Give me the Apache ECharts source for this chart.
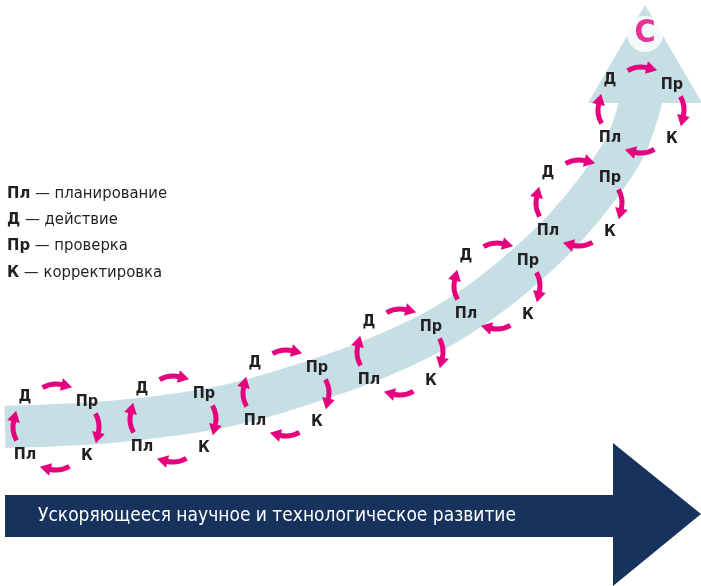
<!DOCTYPE html>
<html><head><meta charset="utf-8">
<script src="https://cdn.jsdelivr.net/npm/echarts@6/dist/echarts.min.js"></script>
<style>html,body{margin:0;padding:0;background:#fff}#c{width:701px;height:586px}</style>
</head><body><div id="c"></div>
<script>
// ---- data ----
const stageLabels = ['Пл', 'Д', 'Пр', 'К'];
const legendNames = ['планирование', 'действие', 'проверка', 'корректировка'];
const cycleX = [56, 173, 286, 400, 497, 579, 641];
const cycleY = [427, 419, 393, 352, 286, 203, 110];
const bandX = [5, 120, 230, 340, 400, 445, 490, 530, 565, 598, 625, 640, 645];
const bandY = [427, 421, 405, 372, 348, 325, 295, 262, 228, 188, 147, 105, 80];
const headX = [588, 645, 702];
const headY = [103, 5, 103];
const goalLabel = 'С';
const goalPoint = [645, 34];
const trendTitle = 'Ускоряющееся научное и технологическое развитие';
const trendX = [5, 613, 613, 701, 613, 613, 5];
const trendY = [495, 495, 443, 514, 586, 537, 537];

const MAG = '#e6007e', NAVY = '#17325c', BAND = '#c6dfe5', INK = '#231f20';
const FONT = '"DejaVu Sans Condensed", "DejaVu Sans", sans-serif';

const chart = echarts.init(document.getElementById('c'), null, {renderer: 'canvas'});

function polyRender(xs, ys, fill) {
  return function (params, api) {
    if (params.dataIndex !== 0) return null;
    const pts = xs.map((x, i) => api.coord([x, ys[i]]));
    return {type: 'polygon', shape: {points: pts}, style: {fill: fill}};
  };
}

function cycleRender(params, api) {
  const c = api.coord([api.value(0), api.value(1)]);
  const children = [];
  const dirs = [-Math.PI / 2, 0, Math.PI / 2, Math.PI];
  const D = 43, R = 27;
  dirs.forEach(a0 => {
    const ox = c[0] + Math.cos(a0) * (D - R), oy = c[1] + Math.sin(a0) * (D - R);
    const s = a0 - 0.52, e = a0 + 0.24;
    children.push({type: 'arc', shape: {cx: ox, cy: oy, r: R, startAngle: s, endAngle: e, clockwise: true},
      style: {stroke: MAG, lineWidth: 5, fill: 'none'}});
    const ex = ox + R * Math.cos(e), ey = oy + R * Math.sin(e);
    const tx = -Math.sin(e), ty = Math.cos(e), nx = Math.cos(e), ny = Math.sin(e);
    children.push({type: 'polygon', shape: {points: [
      [ex + tx * 10, ey + ty * 10], [ex + nx * 6.5 - tx, ey + ny * 6.5 - ty], [ex - nx * 6.5 - tx, ey - ny * 6.5 - ty]]},
      style: {fill: MAG}});
  });
  const offs = [[-31, 28], [-31, -30], [31, -25], [31, 29]];
  stageLabels.forEach((t, i) => children.push({type: 'text', style: {
    text: t, x: c[0] + offs[i][0], y: c[1] + offs[i][1], align: 'center', verticalAlign: 'middle',
    font: 'bold 16px ' + FONT, fill: INK}}));
  return {type: 'group', children};
}

function trendRender(params, api) {
  if (params.dataIndex !== 0) return null;
  const pts = trendX.map((x, i) => api.coord([x, trendY[i]]));
  const t = api.coord([38, (trendY[0] + trendY[5]) / 2]);
  return {type: 'group', children: [
    {type: 'polygon', shape: {points: pts}, style: {fill: NAVY}},
    {type: 'text', style: {text: trendTitle, x: t[0], y: t[1], align: 'left', verticalAlign: 'middle',
      font: '19px ' + FONT, fill: '#ffffff'}}
  ]};
}

const legendGraphics = stageLabels.map((s, i) => ({
  type: 'text', left: 7, top: 185 + i * 26.3,
  style: {rich: {b: {fontWeight: 'bold', fontSize: 16.5, fontFamily: FONT, fill: INK},
                 n: {fontSize: 16.5, fontFamily: FONT, fill: INK}},
          text: '{b|' + s + '}{n| — ' + legendNames[i] + '}'}
}));

chart.setOption({
  animation: false,
  backgroundColor: '#ffffff',
  grid: {left: 0, right: 0, top: 0, bottom: 0},
  xAxis: {type: 'value', min: 0, max: 701, show: false},
  yAxis: {type: 'value', min: 0, max: 586, inverse: true, show: false},
  graphic: legendGraphics,
  series: [
    {type: 'line', data: bandX.map((x, i) => [x, bandY[i]]), smooth: 0.35, symbol: 'none', silent: true, z: 1,
     lineStyle: {width: 42, color: BAND, cap: 'butt'}},
    {type: 'custom', data: headX.map((x, i) => [x, headY[i]]), renderItem: polyRender(headX, headY, BAND), z: 2, silent: true},
    {type: 'scatter', data: [goalPoint], symbolSize: 36, z: 3, silent: true, itemStyle: {color: '#ffffff'},
     label: {show: true, position: 'inside', formatter: goalLabel, fontSize: 32, fontWeight: 'bold', color: MAG, fontFamily: FONT}},
    {type: 'custom', data: cycleX.map((x, i) => [x, cycleY[i]]), renderItem: cycleRender, z: 4, silent: true},
    {type: 'custom', data: trendX.map((x, i) => [x, trendY[i]]), renderItem: trendRender, z: 5, silent: true}
  ]
});
</script></body></html>
